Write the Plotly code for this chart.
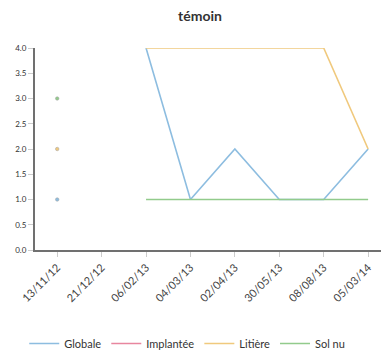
import plotly.graph_objects as go

dates = ["13/11/12", "21/12/12", "06/02/13", "04/03/13", "02/04/13", "30/05/13", "08/08/13", "05/03/14"]

globale = [1, None, 4, 1, 2, 1, 1, 2]
implantee = [None, None, None, None, None, None, None, None]
litiere = [2, None, 4, 4, 4, 4, 4, 2]
sol_nu = [3, None, 1, 1, 1, 1, 1, 1]

series = [
    ("Globale", globale, "#8dbde0"),
    ("Implantée", implantee, "#e8869f"),
    ("Litière", litiere, "#f0c97d"),
    ("Sol nu", sol_nu, "#92cb8c"),
]

font_family = "Lato, Open Sans, sans-serif"

fig = go.Figure()

for name, vals, color in series:
    fig.add_trace(go.Scatter(
        x=dates, y=vals, name=name, mode="lines",
        line=dict(color=color, width=1.6),
        connectgaps=False,
    ))

# values with no neighbour on either side are drawn as single dots
for name, vals, color in series:
    xs, ys = [], []
    for i, v in enumerate(vals):
        if v is None:
            continue
        left = vals[i - 1] if i > 0 else None
        right = vals[i + 1] if i < len(vals) - 1 else None
        if left is None and right is None:
            xs.append(dates[i])
            ys.append(v)
    if xs:
        fig.add_trace(go.Scatter(
            x=xs, y=ys, mode="markers", showlegend=False, hoverinfo="skip",
            marker=dict(color=color, size=3.5, line=dict(color="#a0a0a0", width=0.5)),
        ))

fig.update_layout(
    width=381, height=358,
    margin=dict(l=35, r=0, t=48, b=107),
    paper_bgcolor="white", plot_bgcolor="white",
    font=dict(family=font_family, color="#444"),
    title=dict(text="<b>témoin</b>", x=0.525, xanchor="center", y=0.955, yanchor="middle",
               font=dict(size=14, color="#333", family=font_family)),
    showlegend=True,
    legend=dict(orientation="h", x=0.44, xanchor="center", y=-0.465, yanchor="middle",
                font=dict(size=11, color="#333"), itemwidth=30, tracegroupgap=0),
    xaxis=dict(
        type="category", categoryorder="array", categoryarray=dates,
        range=[-0.5, 7.29], showgrid=False, zeroline=False,
        showline=True, linecolor="#707070", linewidth=2,
        ticks="outside", ticklen=5, tickcolor="#cccccc", tickwidth=1,
        tickangle=-45, tickfont=dict(size=11, color="#444"),
    ),
    yaxis=dict(
        range=[0, 4], tickvals=[0, 0.5, 1, 1.5, 2, 2.5, 3, 3.5, 4],
        ticktext=["0.0", "0.5", "1.0", "1.5", "2.0", "2.5", "3.0", "3.5", "4.0"],
        showgrid=False, zeroline=False,
        showline=True, linecolor="#707070", linewidth=2,
        ticks="outside", ticklen=5, tickcolor="#cccccc", tickwidth=1,
        tickfont=dict(size=8, color="#333"),
    ),
)

fig.write_html("out.html")
